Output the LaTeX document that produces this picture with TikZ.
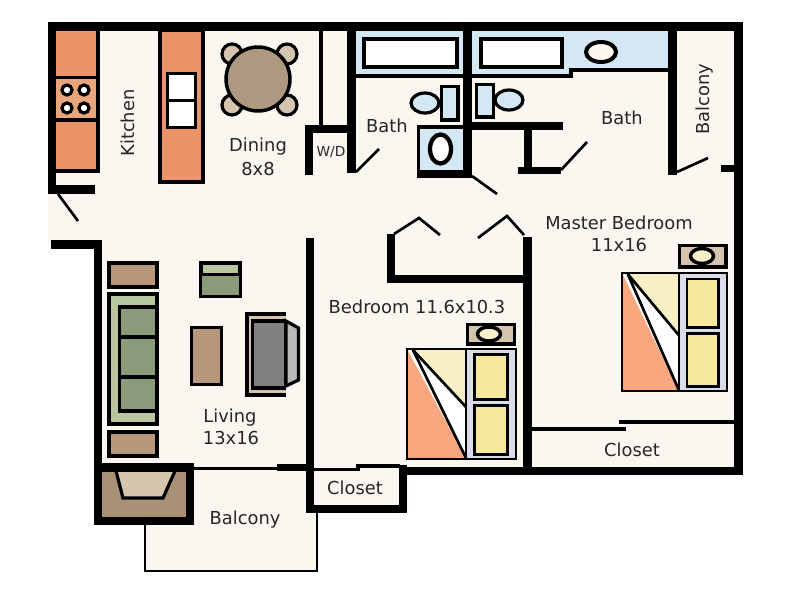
\documentclass[tikz,border=0pt]{standalone}
\usepackage{fontspec}
\setmainfont{DejaVu Sans}
\definecolor{cream}{HTML}{FAF7F0}
\definecolor{counter}{HTML}{EC9468}
\definecolor{burner}{HTML}{E8A57C}
\definecolor{tile}{HTML}{D4E8F3}
\definecolor{wood}{HTML}{B6977A}
\definecolor{tablewood}{HTML}{AD9880}
\definecolor{hearth}{HTML}{A99175}
\definecolor{tan}{HTML}{D6C5AE}
\definecolor{sage}{HTML}{8A9B7C}
\definecolor{lightsage}{HTML}{B7C69C}
\definecolor{coral}{HTML}{F9A77F}
\definecolor{sheet}{HTML}{F8F1C8}
\definecolor{pillow}{HTML}{F6E99C}
\definecolor{linen}{HTML}{DADDE8}
\tikzset{
  wall/.style={fill=black,draw=none},
  thin wall/.style={draw=black,line width=2.6pt},
  hair/.style={draw=black,line width=1.6pt},
  door/.style={draw=black,line width=2pt},
  item/.style={draw=black,line width=2.4pt},
  label/.style={font=\fontsize{13.4}{15}\selectfont,text=black!85,inner sep=0pt}
}
\newcommand{\bedat}[4]{% x y xscale yscale
  \begin{scope}[shift={(#1,#2)},xscale=#3,yscale=#4]
    \fill[white] (0,0) rectangle (59,110);
    \fill[linen] (59,0) rectangle (109,110);
    \fill[coral] (0,0) -- (59,110) -- (0,110) -- cycle;
    \fill[sheet] (3,0) -- (59,0) -- (59,58) -- cycle;
    \draw[door] (6,1) -- (59,58);
    \draw[door] (6,1) -- (59,109);
    \draw[hair] (0,0) rectangle (109,110);
    \draw[hair] (59,0) -- (59,110);
    \draw[door,fill=pillow] (67.5,5.5) rectangle (100.5,50.5);
    \draw[door,fill=pillow] (67.5,56.5) rectangle (100.5,105.5);
  \end{scope}
}
\begin{document}
\begin{tikzpicture}[x=0.75pt,y=-0.75pt]
\useasboundingbox (0,0) rectangle (800,600);
\fill[white] (0,0) rectangle (800,600);
% floor
\fill[cream] (48,22) -- (743,22) -- (743,475) -- (408,475) -- (408,512) -- (318,512) -- (318,572) -- (145,572) -- (145,525) -- (95,525) -- (95,245) -- (48,245) -- cycle;
% balcony outline
\draw[hair] (145,525) -- (145,571) -- (317,571) -- (317,512);
% kitchen counter
\fill[counter] (56,31) rectangle (97,170);
\fill[burner] (56,78) rectangle (96,120);
\draw[thin wall] (56,77.5) -- (96,77.5);
\draw[thin wall] (56,120) -- (96,120);
\fill[wall] (96,31) rectangle (100,173);
\fill[wall] (56,169) rectangle (100,173);
\foreach \bx/\by in {67/90,84/90,67/108,84/108}
  \draw[item,fill=white] (\bx,\by) circle (5);
% peninsula
\draw[thin wall,fill=counter] (160,30) rectangle (203,182);
\draw[thin wall,fill=white] (167.5,73.5) rectangle (195.5,127.5);
\draw[thin wall] (167,100.5) -- (196,100.5);
% dining table
\foreach \cx/\cy in {232/54,287/54,232/105,287/105}
  \draw[item,fill=tan] (\cx,\cy) circle (10);
\draw[thin wall,fill=tablewood] (258,79) circle (32);
% bath fixtures
\fill[tile] (356,31) rectangle (463,74);
\fill[tile] (472,31) rectangle (668,68);
\fill[tile] (472,60) rectangle (573,74);
\draw[item,fill=white] (364,39) rectangle (457,67);
\draw[item,fill=white] (481,39) rectangle (562,67);
\draw[line width=3pt,fill=cream] (601,52) ellipse (15 and 10);
\fill[wall] (356,74) rectangle (463,78);
\fill[wall] (472,74) rectangle (573,78);
\fill[wall] (573,68) rectangle (668,72);
\fill[wall] (569,68) rectangle (573,78);
\draw[item,fill=tile] (425,103) ellipse (14 and 10);
\draw[item,fill=tile] (441.5,86.5) rectangle (458,120);
\draw[item,fill=tile] (509,100) ellipse (14 and 10);
\draw[item,fill=tile] (476.5,84.5) rectangle (493.5,117);
\draw[thin wall,fill=tile] (418.5,127) rectangle (465,172);
\draw[line width=3.2pt,fill=white] (440.5,149) ellipse (10.5 and 14.5);
% structural walls
\fill[wall] (48,22) rectangle (743,31);
\fill[wall] (48,22) rectangle (56,194);
\fill[wall] (48,185) rectangle (95,194);
\fill[wall] (734,22) rectangle (743,475);
\fill[wall] (721,165) rectangle (743,172);
\fill[wall] (51,240) rectangle (102,249);
\fill[wall] (94,240) rectangle (102,525);
\fill[wall] (305,125) rectangle (356,133);
\fill[wall] (305,125) rectangle (313,175);
\fill[wall] (319,31) rectangle (323,125);
\fill[wall] (347,22) rectangle (356,173);
\fill[wall] (463,22) rectangle (472,178);
\fill[wall] (417,170) rectangle (472,178);
\fill[wall] (472,122) rectangle (563,130);
\fill[wall] (524,122) rectangle (532,174);
\fill[wall] (518,167) rectangle (561,174);
\fill[wall] (668,22) rectangle (677,175);
\fill[wall] (306,238) rectangle (314,513);
\fill[wall] (523,237) rectangle (532,475);
\fill[wall] (387,234) rectangle (395,283);
\fill[wall] (387,275) rectangle (532,283);
\fill[wall] (399,467) rectangle (743,475);
\fill[wall] (399,465) rectangle (407,513);
\fill[wall] (306,505) rectangle (407,513);
\fill[wall] (277,464) rectangle (307,471);
\fill[wall] (194,467) rectangle (277,470);
\fill[wall] (532,427) rectangle (626,430.5);
\fill[wall] (619,420) rectangle (734,423.5);
\draw[thin wall] (314,469.5) -- (358,469.5) -- (358,466) -- (400,466);
% fireplace
\fill[wall] (94,463) rectangle (194,525);
\fill[hearth] (102,472) rectangle (186,517);
\draw[item,fill=tan] (116,471) -- (123,498) -- (163,498) -- (175,471);
\fill[wall] (102,463) rectangle (194,472);
% doors
\draw[door] (58,194) -- (78,221);
\draw[door] (356,172) -- (379,149);
\draw[door] (472,176) -- (497,194);
\draw[door] (561,170) -- (587,142);
\draw[door] (677,172) -- (708,158);
\draw[door] (394,234) -- (419,218) -- (440,235);
\draw[door] (478,238) -- (507,216) -- (524,235);
% living furniture
\draw[item,fill=wood] (109,263) rectangle (157,287);
\draw[item,fill=lightsage] (109,294) rectangle (157,424);
\draw[item,fill=sage] (119.5,307) rectangle (157,411);
\draw[item] (119,337) -- (157,337);
\draw[item] (119,377) -- (157,377);
\draw[item,fill=wood] (109,432) rectangle (157,456);
\draw[item,fill=lightsage] (201,263) rectangle (240,296);
\fill[sage] (202,275) rectangle (239,295);
\draw[item] (200,274.5) -- (241,274.5);
\draw[thin wall,fill=wood] (191.5,327.5) rectangle (221.5,384.5);
\fill[wall] (245,312) rectangle (286,397);
\fill[tan] (249,316) rectangle (286,393);
\fill[wall] (251,319) rectangle (286,390);
\fill[black!50] (254,323) rectangle (284,386);
\draw[item,fill=black!27] (286,321) -- (298.5,328) -- (298.5,380) -- (286,386) -- cycle;
% bedroom furniture
\draw[item,fill=tan] (467.5,324.5) rectangle (514.5,344);
\draw[line width=2.6pt,fill=sheet] (489,334) ellipse (11.5 and 7);
\bedat{407}{349}{1}{1}
\draw[item,fill=tan] (679.5,245.5) rectangle (726,267);
\draw[line width=2.6pt,fill=sheet] (702,256) ellipse (11.5 and 7.5);
\bedat{622}{273}{0.963}{1.073}
% labels
\node[label,rotate=90] (kitchen) at (128,123) {Kitchen};
\node[label] (dining) at (258,147) {Dining};
\node[label] (dinings) at (258,169) {8x8};
\node[label,font=\fontsize{10.3}{12}\selectfont] (wd) at (331,152) {W/D};
\node[label] (bathl) at (387,126) {Bath};
\node[label] (bathr) at (622,118) {Bath};
\node[label,rotate=90] (balconyr) at (705,99) {Balcony};
\node[label] (master) at (619,223) {Master Bedroom};
\node[label] (masters) at (619,245) {11x16};
\node[label] (bedroom) at (417,307) {Bedroom 11.6x10.3};
\node[label] (closetr) at (632,450) {Closet};
\node[label] (closetl) at (355,488) {Closet};
\node[label] (living) at (230,418) {Living};
\node[label] (livings) at (231,438) {13x16};
\node[label] (balcony) at (245,520) {Balcony};
\end{tikzpicture}
\end{document}
